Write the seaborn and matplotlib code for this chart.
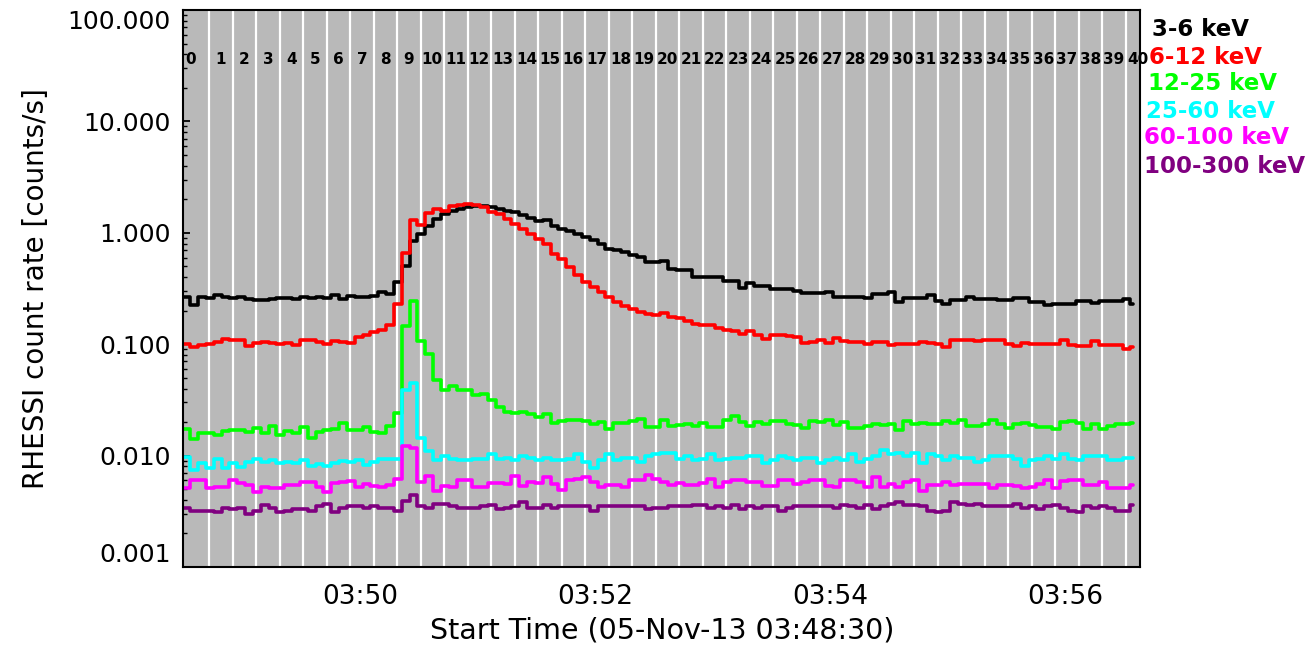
import numpy as np
import pandas as pd
import matplotlib
matplotlib.use("Agg")
import matplotlib.pyplot as plt
import matplotlib.transforms as mtransforms
from matplotlib.ticker import FixedLocator, LogLocator, NullFormatter
import seaborn as sns

# ---------------- data ----------------
bands = ["3-6 keV", "6-12 keV", "12-25 keV", "25-60 keV", "60-100 keV", "100-300 keV"]
band_colors = ["#000000", "#ff0000", "#00ff00", "#00ffff", "#ff00ff", "#800080"]

rate_3_6 = [
    0.264, 0.227, 0.264, 0.259, 0.274, 0.264, 0.261, 0.268, 0.255, 0.247,
    0.250, 0.255, 0.261, 0.261, 0.255, 0.264, 0.259, 0.268, 0.261, 0.274,
    0.253, 0.272, 0.268, 0.268, 0.272, 0.297, 0.283, 0.365, 0.508, 0.851,
    0.977, 1.16, 1.33, 1.48, 1.56, 1.64, 1.69, 1.75, 1.74, 1.69,
    1.64, 1.58, 1.53, 1.43, 1.36, 1.27, 1.30, 1.16, 1.08, 1.03,
    0.977, 0.924, 0.863, 0.795, 0.717, 0.702, 0.669, 0.638, 0.604, 0.544,
    0.544, 0.563, 0.474, 0.465, 0.465, 0.400, 0.405, 0.405, 0.405, 0.373,
    0.373, 0.321, 0.353, 0.330, 0.330, 0.316, 0.316, 0.316, 0.299, 0.287,
    0.287, 0.287, 0.293, 0.268, 0.268, 0.268, 0.268, 0.261, 0.283, 0.283,
    0.293, 0.239, 0.261, 0.261, 0.261, 0.274, 0.243, 0.230, 0.250, 0.250,
    0.264, 0.255, 0.255, 0.255, 0.247, 0.247, 0.261, 0.261, 0.239, 0.239,
    0.223, 0.230, 0.230, 0.230, 0.242, 0.242, 0.234, 0.242, 0.242, 0.242,
    0.252, 0.230]

rate_6_12 = [
    0.0995, 0.0941, 0.0976, 0.101, 0.105, 0.112, 0.110, 0.110, 0.096, 0.102,
    0.105, 0.102, 0.101, 0.102, 0.0976, 0.110, 0.110, 0.105, 0.101, 0.106,
    0.105, 0.102, 0.116, 0.120, 0.128, 0.135, 0.150, 0.230, 0.655, 1.29,
    1.18, 1.50, 1.64, 1.58, 1.75, 1.79, 1.81, 1.79, 1.70, 1.53,
    1.46, 1.33, 1.20, 1.08, 0.977, 0.881, 0.795, 0.647, 0.583, 0.491,
    0.414, 0.360, 0.325, 0.293, 0.264, 0.239, 0.218, 0.208, 0.194, 0.188,
    0.182, 0.190, 0.175, 0.173, 0.162, 0.153, 0.150, 0.150, 0.140, 0.133,
    0.131, 0.124, 0.131, 0.120, 0.112, 0.120, 0.120, 0.118, 0.116, 0.102,
    0.105, 0.110, 0.102, 0.114, 0.107, 0.105, 0.105, 0.0995, 0.105, 0.105,
    0.0976, 0.101, 0.101, 0.0995, 0.105, 0.102, 0.101, 0.0941, 0.108, 0.110,
    0.110, 0.107, 0.110, 0.110, 0.110, 0.0995, 0.0955, 0.102, 0.0995, 0.0995,
    0.0995, 0.0995, 0.108, 0.0976, 0.0955, 0.0955, 0.107, 0.0976, 0.0976, 0.0976,
    0.0912, 0.0941]

rate_12_25 = [
    0.0175, 0.0142, 0.0158, 0.0160, 0.0152, 0.0167, 0.0169, 0.0171, 0.0163, 0.0177,
    0.0158, 0.0183, 0.0152, 0.0167, 0.0158, 0.0181, 0.0145, 0.0163, 0.0169, 0.0175,
    0.0197, 0.0169, 0.0169, 0.0181, 0.0163, 0.0158, 0.0183, 0.0241, 0.147, 0.243,
    0.107, 0.082, 0.0474, 0.0385, 0.0418, 0.0385, 0.0385, 0.0347, 0.0355, 0.0313,
    0.0273, 0.0246, 0.0241, 0.0246, 0.0238, 0.0222, 0.0235, 0.0197, 0.0205, 0.0207,
    0.0210, 0.0205, 0.0191, 0.0200, 0.0175, 0.0197, 0.0197, 0.0205, 0.0214, 0.0181,
    0.0181, 0.0207, 0.0183, 0.0187, 0.0191, 0.0183, 0.0197, 0.0181, 0.0181, 0.0207,
    0.0225, 0.0200, 0.0183, 0.0200, 0.0194, 0.0205, 0.0205, 0.0191, 0.0187, 0.0178,
    0.0205, 0.0200, 0.0210, 0.0187, 0.0200, 0.0178, 0.0178, 0.0183, 0.0191, 0.0187,
    0.0191, 0.0171, 0.0205, 0.0194, 0.0197, 0.0191, 0.0194, 0.0205, 0.0197, 0.0207,
    0.0183, 0.0183, 0.0194, 0.0210, 0.0191, 0.0178, 0.0191, 0.0197, 0.0187, 0.0181,
    0.0181, 0.0175, 0.0200, 0.0205, 0.0197, 0.0175, 0.0194, 0.0175, 0.0183, 0.0194,
    0.0194, 0.0197]

rate_25_60 = [
    0.0097, 0.0075, 0.0086, 0.0078, 0.0094, 0.0078, 0.0085, 0.0079, 0.0088, 0.0094,
    0.0088, 0.0091, 0.0085, 0.0088, 0.0086, 0.0091, 0.0080, 0.0084, 0.0080, 0.0086,
    0.0090, 0.0088, 0.0091, 0.0082, 0.0088, 0.0094, 0.0094, 0.0094, 0.0391, 0.0448,
    0.0145, 0.0110, 0.0092, 0.0100, 0.0094, 0.0092, 0.0091, 0.0094, 0.0094, 0.0103,
    0.0094, 0.0096, 0.0092, 0.0099, 0.0096, 0.0091, 0.0096, 0.0092, 0.0092, 0.0094,
    0.0104, 0.0088, 0.0078, 0.0092, 0.0104, 0.0092, 0.0096, 0.0096, 0.0088, 0.0099,
    0.0103, 0.0106, 0.0106, 0.0094, 0.0099, 0.0091, 0.0094, 0.0103, 0.0092, 0.0094,
    0.0096, 0.0096, 0.0099, 0.0099, 0.0085, 0.0092, 0.0099, 0.0096, 0.0092, 0.0096,
    0.0096, 0.0086, 0.0092, 0.0096, 0.0092, 0.0103, 0.0088, 0.0094, 0.0099, 0.0112,
    0.0103, 0.0106, 0.0099, 0.0106, 0.0086, 0.0103, 0.0099, 0.0092, 0.0099, 0.0096,
    0.0096, 0.0088, 0.0091, 0.0100, 0.0100, 0.0099, 0.0094, 0.0080, 0.0091, 0.0094,
    0.0099, 0.0094, 0.0103, 0.0094, 0.0092, 0.0100, 0.0100, 0.0100, 0.0091, 0.0091,
    0.0096, 0.0096]

rate_60_100 = [
    0.0051, 0.0061, 0.0061, 0.0051, 0.0052, 0.0052, 0.0060, 0.0057, 0.0054, 0.0047,
    0.0052, 0.0051, 0.0051, 0.0055, 0.0054, 0.0058, 0.0058, 0.0052, 0.0047, 0.0057,
    0.0058, 0.0059, 0.0052, 0.0056, 0.0053, 0.0052, 0.0055, 0.0062, 0.0121, 0.0116,
    0.0058, 0.0065, 0.0048, 0.0053, 0.0052, 0.0060, 0.0060, 0.0052, 0.0052, 0.0057,
    0.0057, 0.0056, 0.0065, 0.0053, 0.0058, 0.0057, 0.0064, 0.0056, 0.0049, 0.0061,
    0.0062, 0.0064, 0.0058, 0.0052, 0.0055, 0.0055, 0.0052, 0.0060, 0.0060, 0.0067,
    0.0062, 0.0058, 0.0054, 0.0057, 0.0055, 0.0055, 0.0057, 0.0062, 0.0052, 0.0058,
    0.0060, 0.0060, 0.0058, 0.0058, 0.0053, 0.0053, 0.0061, 0.0061, 0.0056, 0.0058,
    0.0061, 0.0061, 0.0053, 0.0052, 0.0060, 0.0061, 0.0058, 0.0052, 0.0064, 0.0052,
    0.0056, 0.0052, 0.0058, 0.0060, 0.0048, 0.0054, 0.0055, 0.0058, 0.0055, 0.0056,
    0.0056, 0.0056, 0.0056, 0.0051, 0.0054, 0.0054, 0.0053, 0.0051, 0.0052, 0.0056,
    0.0060, 0.0051, 0.0059, 0.0060, 0.0060, 0.0055, 0.0055, 0.0058, 0.0051, 0.0051,
    0.0051, 0.0054]

rate_100_300 = [
    0.0034, 0.0032, 0.0032, 0.0032, 0.0031, 0.0034, 0.0033, 0.0034, 0.0030, 0.0032,
    0.0036, 0.0034, 0.0031, 0.0032, 0.0033, 0.0033, 0.0032, 0.0035, 0.0037, 0.0031,
    0.0034, 0.0035, 0.0035, 0.0034, 0.0035, 0.0034, 0.0034, 0.0032, 0.0039, 0.0044,
    0.0035, 0.0034, 0.0037, 0.0037, 0.0035, 0.0034, 0.0034, 0.0034, 0.0035, 0.0036,
    0.0033, 0.0034, 0.0035, 0.0038, 0.0034, 0.0034, 0.0036, 0.0034, 0.0035, 0.0035,
    0.0035, 0.0035, 0.0032, 0.0035, 0.0035, 0.0035, 0.0035, 0.0035, 0.0035, 0.0033,
    0.0034, 0.0034, 0.0035, 0.0035, 0.0035, 0.0036, 0.0036, 0.0034, 0.0035, 0.0034,
    0.0036, 0.0033, 0.0035, 0.0034, 0.0035, 0.0035, 0.0032, 0.0034, 0.0035, 0.0035,
    0.0035, 0.0035, 0.0035, 0.0034, 0.0036, 0.0035, 0.0034, 0.0036, 0.0033, 0.0035,
    0.0037, 0.0038, 0.0036, 0.0036, 0.0035, 0.0032, 0.0031, 0.0032, 0.0038, 0.0037,
    0.0036, 0.0037, 0.0035, 0.0035, 0.0035, 0.0035, 0.0037, 0.0034, 0.0035, 0.0033,
    0.0035, 0.0036, 0.0034, 0.0032, 0.0031, 0.0035, 0.0034, 0.0035, 0.0034, 0.0032,
    0.0032, 0.0036]

series = [rate_3_6, rate_6_12, rate_12_25, rate_25_60, rate_60_100, rate_100_300]

# time axis (seconds after 03:48:30)
bin_width_s = 4.0
first_step_s = 3.4
data_end_s = 484.8
x_range_s = (0.0, 488.3)
time_ticks_s = [90, 210, 330, 450]
time_tick_labels = ["03:50", "03:52", "03:54", "03:56"]
y_ticks = [1e-3, 1e-2, 1e-1, 1e0, 1e1, 1e2]
y_tick_labels = ["0.001", "0.010", "0.100", "1.000", "10.000", "100.000"]

# analysis intervals
interval_len_s = 12.0
first_boundary_s = 13.05
interval_labels = [str(i) for i in range(41)]

# ---------------- build long table ----------------
rows = []
for band, vals in zip(bands, series):
    n = len(vals)
    starts = np.concatenate([[0.0], first_step_s + bin_width_s * np.arange(n - 1)])
    for t, v in zip(starts, vals):
        rows.append((band, t, v))
    rows.append((band, data_end_s, vals[-1]))
df = pd.DataFrame(rows, columns=["band", "t", "rate"])

# ---------------- plot ----------------
sns.set_theme(style="ticks")
plt.rcParams["font.family"] = ["DejaVu Sans"]
plt.rcParams.update({"text.color": "black", "axes.labelcolor": "black",
                     "xtick.color": "black", "ytick.color": "black",
                     "axes.edgecolor": "black"})

fig = plt.figure(figsize=(13.1, 6.46), dpi=100)
ax = fig.add_axes([183.5 / 1310, (646 - 567) / 646, (1140 - 183.5) / 1310, (567 - 10) / 646])
ax.set_facecolor("#b9b9b9")

boundaries = first_boundary_s + interval_len_s * np.arange(len(interval_labels) - 1)
for b in boundaries:
    ax.axvline(b, color="white", lw=1.6, zorder=1)

sns.lineplot(data=df, x="t", y="rate", hue="band", hue_order=bands,
             palette=band_colors, drawstyle="steps-post", estimator=None,
             legend=False, linewidth=2.6, ax=ax, zorder=3)

ax.set_yscale("log")
ax.set_ylim(1e-3, 1e2)
ax.set_xlim(*x_range_s)

ax.yaxis.set_major_locator(FixedLocator(y_ticks))
ax.set_yticklabels(y_tick_labels)
ax.yaxis.set_minor_locator(LogLocator(base=10, subs=np.arange(2, 10)))
ax.yaxis.set_minor_formatter(NullFormatter())
ax.tick_params(axis="y", which="major", direction="in", length=5, width=1.3,
               labelsize=18, pad=9, right=False, colors="black")
ax.tick_params(axis="y", which="minor", direction="in", length=3, width=1.0, right=False)
ticklabs = ax.get_yticklabels()
ticklabs[0].set_va("bottom")
ticklabs[-1].set_va("top")

ax.xaxis.set_major_locator(FixedLocator(time_ticks_s))
ax.set_xticklabels(time_tick_labels)
ax.xaxis.set_minor_locator(FixedLocator(boundaries))
ax.tick_params(axis="x", which="major", direction="in", length=0, labelsize=19, pad=12,
               colors="black")
ax.tick_params(axis="x", which="minor", direction="in", length=3, width=1.2, top=True)

for sp in ax.spines.values():
    sp.set_linewidth(1.5)
    sp.set_color("black")
    sp.set_zorder(5)

ax.set_xlabel("Start Time (05-Nov-13 03:48:30)", fontsize=20.5, labelpad=5, color="black")
ax.set_ylabel("RHESSI count rate [counts/s]", fontsize=20, labelpad=13, color="black")

# interval numbers
trans = mtransforms.blended_transform_factory(ax.transData, ax.transAxes)
for i, lab in enumerate(interval_labels):
    if i == 0:
        ax.text(x_range_s[0] + 0.8, 0.912, lab, transform=trans, ha="left", va="center",
                fontsize=11, fontweight="bold", color="black", clip_on=False, zorder=6)
    else:
        xc = first_boundary_s + interval_len_s * (i - 0.5)
        ax.text(xc, 0.912, lab, transform=trans, ha="center", va="center",
                fontsize=11, fontweight="bold", color="black", clip_on=False, zorder=6)

# legend text on the right
legend_y_px = [30, 57, 84, 111, 138, 166]
legend_x_px = [1152, 1149, 1148, 1146, 1144, 1144]
for band, col, xpx, ypx in zip(bands, band_colors, legend_x_px, legend_y_px):
    fig.text(xpx / 1310, 1 - ypx / 646, band, color=col, fontsize=16.5,
             fontweight="bold", ha="left", va="center")

fig.savefig("out.png", dpi=100)
